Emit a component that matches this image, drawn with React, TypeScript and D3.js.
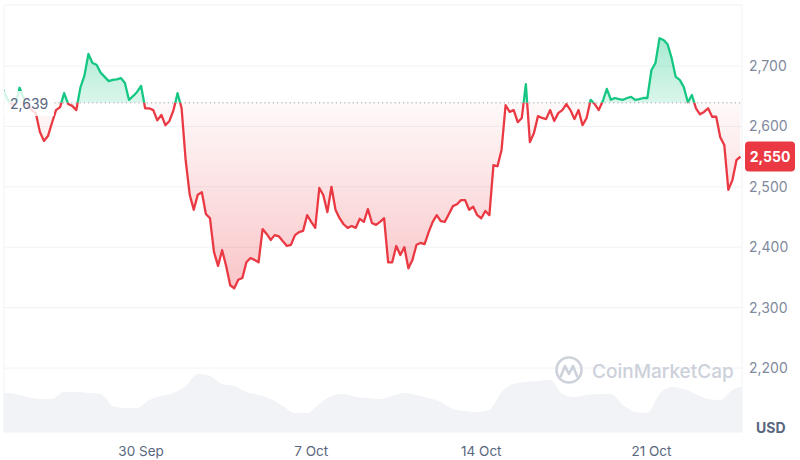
import * as d3 from "d3";

// ETH price, 4-hour steps from 24 Sep 08:00
const start = new Date(2024, 8, 24, 8, 0);
const stepHours = 4;
const prices = [
  2660, 2645, 2637, 2637, 2664, 2647, 2635, 2627, 2622, 2591,
  2576, 2584, 2606, 2627, 2632, 2655, 2637, 2634, 2627, 2664,
  2684, 2720, 2705, 2702, 2689, 2682, 2675, 2677, 2678, 2680,
  2672, 2644, 2650, 2657, 2667, 2630, 2630, 2627, 2610, 2619,
  2602, 2609, 2627, 2655, 2630, 2544, 2487, 2462, 2487, 2491,
  2455, 2448, 2392, 2369, 2395, 2369, 2337, 2332, 2346, 2349,
  2375, 2382, 2379, 2375, 2430, 2422, 2412, 2420, 2418, 2410,
  2402, 2404, 2420, 2425, 2427, 2453, 2442, 2432, 2498, 2486,
  2458, 2500, 2462, 2448, 2438, 2432, 2435, 2432, 2447, 2442,
  2463, 2440, 2437, 2442, 2448, 2375, 2375, 2402, 2387, 2400,
  2365, 2379, 2404, 2407, 2405, 2425, 2442, 2453, 2443, 2442,
  2455, 2468, 2471, 2478, 2478, 2462, 2467, 2453, 2448, 2460,
  2453, 2536, 2534, 2561, 2635, 2624, 2627, 2607, 2614, 2670,
  2574, 2589, 2617, 2614, 2612, 2627, 2609, 2622, 2627, 2637,
  2627, 2612, 2627, 2602, 2614, 2644, 2637, 2627, 2642, 2662,
  2644, 2647, 2645, 2644, 2647, 2649, 2644, 2645, 2647, 2647,
  2693, 2705, 2746, 2743, 2736, 2713, 2682, 2677, 2665, 2640,
  2652, 2630, 2620, 2624, 2630, 2616, 2616, 2582, 2569, 2495,
  2511, 2544, 2550,
];

// 24h volume (billions USD), 12-hour steps
const volStepHours = 12;
const volumes = [
  19.5, 19, 17.5, 16.5, 16.5, 20, 20, 19.5, 19, 13,
  12, 12, 16, 18, 19.5, 23, 29, 28, 24, 23,
  20, 18.5, 16.5, 13, 9.5, 9.5, 14, 18, 19, 17.5,
  17, 16.5, 18, 19.5, 18.5, 17, 15, 11.5, 10.5, 10,
  11, 20, 24, 25, 25.5, 26, 19, 17.5, 18.5, 19,
  19, 13.5, 10, 9.5, 19, 22.5, 21.5, 19, 16.5, 16,
  21, 23,
];

const basePrice = 2639;
const priceTicks = [2200, 2300, 2400, 2500, 2600, 2700];
const dateTicks = [
  new Date(2024, 8, 30),
  new Date(2024, 9, 7),
  new Date(2024, 9, 14),
  new Date(2024, 9, 21),
];

const width = 800;
const height = 460;
const plotLeft = 4;
const plotRight = 742;
const plotTop = 5;
const plotBottom = 432;

const green = "#16C784";
const red = "#EA3943";
const font = "Inter, 'Noto Sans', sans-serif";

const hour = 3600 * 1000;
const series = prices.map((p, i) => ({
  date: new Date(start.getTime() + i * stepHours * hour),
  value: p,
}));
const volSeries = volumes.map((v, i) => ({
  date: new Date(start.getTime() + i * volStepHours * hour),
  value: v,
}));

const App = () => {
  const x = d3.scaleTime(
    [series[0].date, series[series.length - 1].date],
    [3.4, 740.5]
  );
  const y = d3.scaleLinear([2200, 2700], [368, 66]);
  const yVol = d3.scaleLinear([0, 30], [plotBottom, 372]);
  const yBase = y(basePrice);

  const line = d3
    .line<{ date: Date; value: number }>()
    .x((d) => x(d.date))
    .y((d) => y(d.value));
  const area = d3
    .area<{ date: Date; value: number }>()
    .x((d) => x(d.date))
    .y0(yBase)
    .y1((d) => y(d.value));
  const volArea = d3
    .area<{ date: Date; value: number }>()
    .x((d) => x(d.date))
    .y0(plotBottom)
    .y1((d) => yVol(d.value))
    .curve(d3.curveMonotoneX);

  const last = prices[prices.length - 1];
  const fmt = d3.format(",");
  const dateFmt = d3.timeFormat("%-d %b");

  return (
    <div style={{ position: "absolute", left: 0, top: 0 }}>
      <svg width={width} height={height} style={{ display: "block", background: "#fff" }}>
        <defs>
          <clipPath id="plot">
            <rect x={plotLeft} y={plotTop} width={plotRight - plotLeft} height={plotBottom - plotTop} />
          </clipPath>
          <clipPath id="above">
            <rect x={plotLeft} y={plotTop} width={plotRight - plotLeft} height={yBase - plotTop} />
          </clipPath>
          <clipPath id="below">
            <rect x={plotLeft} y={yBase} width={plotRight - plotLeft} height={plotBottom - yBase} />
          </clipPath>
          <linearGradient id="gGreen" gradientUnits="userSpaceOnUse" x1={0} x2={0} y1={y(2750)} y2={yBase}>
            <stop offset="0%" stopColor={green} stopOpacity={0.38} />
            <stop offset="100%" stopColor={green} stopOpacity={0.16} />
          </linearGradient>
          <linearGradient id="gRed" gradientUnits="userSpaceOnUse" x1={0} x2={0} y1={yBase} y2={y(2320)}>
            <stop offset="0%" stopColor={red} stopOpacity={0.03} />
            <stop offset="100%" stopColor={red} stopOpacity={0.3} />
          </linearGradient>
        </defs>

        {/* grid */}
        <g stroke="#eff2f5" strokeWidth={1}>
          <line x1={plotLeft} x2={plotRight} y1={plotTop} y2={plotTop} />
          <line x1={plotLeft} x2={plotRight} y1={plotBottom} y2={plotBottom} />
          {priceTicks.map((t) => (
            <line key={t} x1={plotLeft} x2={plotRight} y1={y(t)} y2={y(t)} />
          ))}
          <line x1={plotRight} x2={plotRight} y1={plotTop} y2={plotBottom} />
          <line x1={plotLeft} x2={plotLeft} y1={plotTop} y2={plotBottom} />
        </g>

        {/* volume */}
        <path d={volArea(volSeries)!} fill="#f1f3f6" clipPath="url(#plot)" />

        {/* watermark */}
        <g>
          <circle cx={569} cy={370} r={12.5} fill="none" stroke="#ccd1da" strokeWidth={2.6} />
          <path
            d="M561,376 L565,366 L569,374 L573,366 L577,376"
            fill="none"
            stroke="#ccd1da"
            strokeWidth={2.6}
            strokeLinejoin="round"
            strokeLinecap="round"
          />
          <text x={592} y={378} fontFamily={font} fontSize={19} fill="#ccd1da" fontWeight={500}>
            CoinMarketCap
          </text>
        </g>

        {/* areas */}
        <path d={area(series)!} fill="url(#gGreen)" clipPath="url(#above)" />
        <path d={area(series)!} fill="url(#gRed)" clipPath="url(#below)" />

        {/* baseline */}
        <line
          x1={plotLeft}
          x2={plotRight}
          y1={yBase}
          y2={yBase}
          stroke="#9aa1ad"
          strokeWidth={1}
          strokeDasharray="1.2 3"
        />

        {/* price line */}
        <g fill="none" strokeWidth={2.3} strokeLinejoin="round">
          <path d={line(series)!} stroke={green} clipPath="url(#above)" />
          <path d={line(series)!} stroke={red} clipPath="url(#below)" />
        </g>

        {/* base label */}
        <rect x={plotLeft} y={91} width={50} height={25} fill="#fff" opacity={0.82} />
        <text x={10} y={109} fontFamily={font} fontSize={14} fill="#58667e">
          {fmt(basePrice)}
        </text>

        {/* y axis */}
        <g fontFamily={font} fontSize={14} fill="#808a9d">
          {priceTicks.map((t) => (
            <text key={t} x={749} y={y(t) + 5}>
              {fmt(t)}
            </text>
          ))}
        </g>
        <text x={756} y={433} fontFamily={font} fontSize={14} fontWeight={700} fill="#58667e">
          USD
        </text>

        {/* last price */}
        <rect x={745} y={y(last) - 15} width={50} height={30} rx={4} fill={red} />
        <text
          x={770}
          y={y(last) + 5}
          textAnchor="middle"
          fontFamily={font}
          fontSize={14}
          fontWeight={700}
          fill="#fff"
        >
          {fmt(last)}
        </text>

        {/* x axis */}
        <g fontFamily={font} fontSize={13.5} fill="#58667e">
          {dateTicks.map((d) => (
            <text key={+d} x={x(d)} y={456} textAnchor="middle">
              {dateFmt(d)}
            </text>
          ))}
        </g>
      </svg>
    </div>
  );
};

export default App;
